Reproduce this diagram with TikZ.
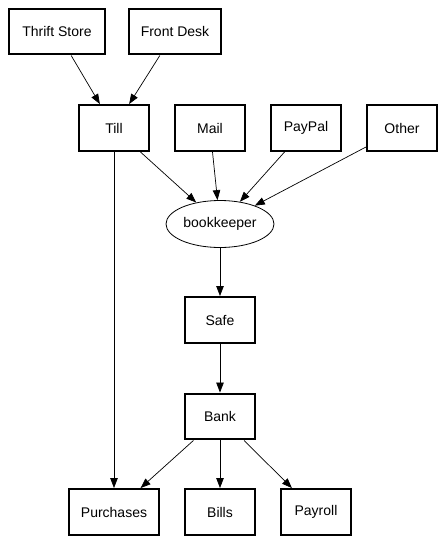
\documentclass[tikz,border=0pt]{standalone}
\usepackage{fontspec}
\setmainfont{Liberation Sans}
\usetikzlibrary{arrows.meta,shapes.geometric}
\tikzset{
  boxnode/.style={draw, line width=2.4pt, rectangle, inner sep=0pt, minimum width=70pt, minimum height=45.5pt, font=\fontsize{14}{16}\selectfont},
  ellnode/.style={draw, line width=0.8pt, ellipse, inner sep=0pt, minimum width=108pt, minimum height=47pt, font=\fontsize{14}{16}\selectfont},
  edge/.style={line width=0.7pt, -{Triangle[length=10pt,width=7.5pt]}}
}
\begin{document}
\begin{tikzpicture}[x=1pt,y=-1pt]
\useasboundingbox (0,0) rectangle (446,543);
\node[boxnode, minimum width=95.5pt] (ts) at (57,31.5) {Thrift Store};
\node[boxnode, minimum width=91.5pt] (fd) at (175,31.5) {Front Desk};
\node[boxnode] (till) at (114,128) {Till};
\node[boxnode] (mail) at (210,128) {Mail};
\node[boxnode] (paypal) at (306,128) {PayPal};
\node[boxnode] (other) at (402,128) {Other};
\node[ellnode] (bk) at (220,224) {bookkeeper};
\node[boxnode] (safe) at (220,320) {Safe};
\node[boxnode] (bank) at (220,416.5) {Bank};
\node[boxnode, minimum width=89.5pt] (purch) at (114,512) {Purchases};
\node[boxnode] (bills) at (220,512) {Bills};
\node[boxnode] (payroll) at (316,512) {Payroll};
\draw[edge] (ts) -- (till);
\draw[edge] (fd) -- (till);
\draw[edge] (till) -- (bk);
\draw[edge] (mail) -- (bk);
\draw[edge] (paypal) -- (bk);
\draw[edge] (other) -- (bk);
\draw[edge] (bk) -- (safe);
\draw[edge] (safe) -- (bank);
\draw[edge] (till) -- (purch);
\draw[edge] (bank) -- (purch);
\draw[edge] (bank) -- (bills);
\draw[edge] (bank) -- (payroll);
\end{tikzpicture}
\end{document}
